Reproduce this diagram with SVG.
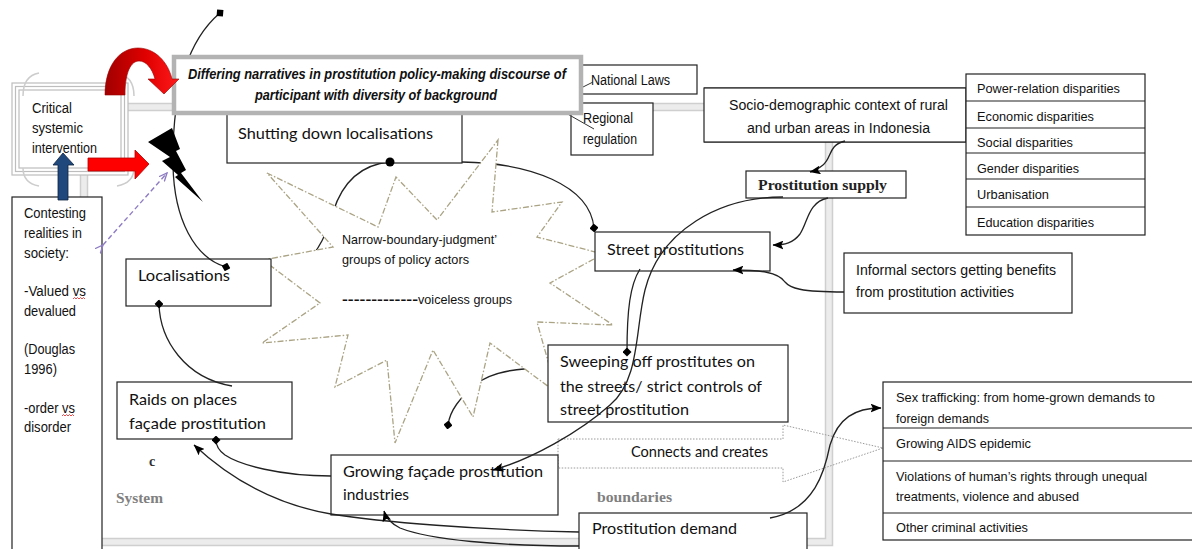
<svg xmlns="http://www.w3.org/2000/svg" width="1192" height="549" viewBox="0 0 1192 549">
<defs>
<style>
.box{fill:#fff;stroke:#222;stroke-width:1.2}
.cal{font-family:Lato,"Open Sans",sans-serif;font-size:15px;fill:#111}
.ar{font-family:"Liberation Sans",Arial,sans-serif;font-size:14px;fill:#111}
.sm{font-family:"Liberation Sans",Arial,sans-serif;font-size:13.5px;fill:#111}
.ser{font-family:"Liberation Serif","Times New Roman",serif;font-weight:bold;font-size:14px}
.con{fill:none;stroke:#222;stroke-width:1.3}
.frame{fill:none;stroke:#cfcfcf;stroke-width:1.5}
</style>
<marker id="arr" viewBox="0 0 10 8" refX="9.5" refY="4" markerWidth="11" markerHeight="9" markerUnits="userSpaceOnUse" orient="auto"><path d="M0,0 L10,4 L0,8 L2,4 Z" fill="#000"/></marker>
<marker id="dia" viewBox="0 0 10 10" refX="5" refY="5" markerWidth="9" markerHeight="9" markerUnits="userSpaceOnUse" orient="auto"><path d="M0,5 L5,0 L10,5 L5,10 Z" fill="#000"/></marker>
<marker id="vo" viewBox="0 0 10 10" refX="9" refY="5" markerWidth="9" markerHeight="9" markerUnits="userSpaceOnUse" orient="auto"><path d="M0,1 L9,5 L0,9" fill="none" stroke="#8e7cc3" stroke-width="1.5"/></marker>
<linearGradient id="redg" x1="0" y1="0" x2="1" y2="0"><stop offset="0" stop-color="#a00000"/><stop offset="0.55" stop-color="#e00000"/><stop offset="1" stop-color="#ff1a1a"/></linearGradient>
</defs>

<!-- System boundary frame -->
<g id="system-boundary">
<rect x="84" y="107" width="745" height="435" fill="none" stroke="#ececec" stroke-width="7"/>
<rect x="80.5" y="103.5" width="752" height="442" class="frame"/>
<rect x="87.5" y="110.5" width="738" height="428" class="frame"/>
</g>

<!-- Connectors partly hidden by the star -->
<g id="connectors-under">
<path class="con" d="M390,162 C355,165 340,190 333,212 C326,235 320,248 305,265"/>
<path class="con" d="M462,162 C530,163 590,185 594,228" marker-end="url(#dia)"/>
<path class="con" d="M548,368 C515,368 490,372 475,385 C460,398 450,410 448,425" marker-end="url(#dia)"/>
</g>

<!-- Star -->
<g id="star">
<polygon points="498,140 492,212 562,202 537,237 603,254 550,283 613,325 537,322 557,393 490,343 473,417 433,350 395,443 387,360 335,387 348,335 262,343 320,303 263,260 333,247 267,173 378,227 396,177 437,220" fill="#fff" stroke="#aaa384" stroke-width="1.3" stroke-dasharray="6 2 1.5 2"/>
<text class="sm" x="342" y="244" textLength="155" lengthAdjust="spacingAndGlyphs">Narrow-boundary-judgment’</text>
<text class="sm" x="342" y="264" textLength="127" lengthAdjust="spacingAndGlyphs">groups of policy actors</text>
<text class="sm" x="342" y="304" textLength="76" lengthAdjust="spacingAndGlyphs" font-weight="bold">-------------</text>
<text class="sm" x="418" y="304" textLength="94" lengthAdjust="spacingAndGlyphs">voiceless groups</text>
</g>

<!-- Connects and creates block arrow -->
<g id="connects-arrow">
<polygon points="558,439 783,439 783,425 883,448 783,482 783,468 558,468" fill="none" stroke="#9a9a9a" stroke-width="1" stroke-dasharray="1.5 1.5"/>
<text class="cal" x="631" y="457" textLength="137" lengthAdjust="spacingAndGlyphs" font-size="14">Connects and creates</text>
</g>

<!-- Nodes -->
<g id="critical">
<rect x="12" y="83" width="116" height="92" fill="#fff" stroke="#bdbdbd" stroke-width="1.2"/>
<rect x="15.5" y="86.5" width="109" height="85" fill="none" stroke="#bdbdbd" stroke-width="1.2"/>
<rect x="19" y="90" width="102" height="78" fill="none" stroke="#bdbdbd" stroke-width="1.2"/>
<path d="M23,96 C23,82 28,75 39,73 M117,73 C128,75 134,82 134,96 M23,168 C23,178 28,184 39,186 M117,186 C128,184 134,178 134,168" fill="none" stroke="#cccccc" stroke-width="1.5"/>
<text class="ar" x="32" y="113" textLength="40" lengthAdjust="spacingAndGlyphs">Critical</text>
<text class="ar" x="32" y="133" textLength="51" lengthAdjust="spacingAndGlyphs">systemic</text>
<text class="ar" x="32" y="153" textLength="65" lengthAdjust="spacingAndGlyphs">intervention</text>
</g>

<g id="national-laws">
<rect class="box" x="579" y="65" width="118" height="29"/>
<text class="ar" x="591" y="85" textLength="79" lengthAdjust="spacingAndGlyphs">National Laws</text>
<line x1="581" y1="88" x2="593" y2="82" stroke="#333" stroke-width="1"/>
</g>

<g id="regional-regulation">
<rect class="box" x="571" y="103" width="82" height="52"/>
<text class="ar" x="583" y="123" textLength="50" lengthAdjust="spacingAndGlyphs">Regional</text>
<text class="ar" x="583" y="144" textLength="54" lengthAdjust="spacingAndGlyphs">regulation</text>
</g>

<g id="shutting-down">
<rect class="box" x="227" y="113" width="235" height="50"/>
<text class="cal" x="238" y="139" textLength="195" lengthAdjust="spacingAndGlyphs">Shutting down localisations</text>
</g>

<g id="socio-demographic">
<line x1="704" y1="88" x2="966" y2="88" stroke="#222" stroke-width="1.2"/>
<line x1="704" y1="142" x2="966" y2="142" stroke="#222" stroke-width="1.2"/>
<rect class="box" x="704" y="88" width="262" height="54"/>
<text class="ar" x="729" y="110" textLength="219" lengthAdjust="spacingAndGlyphs" font-size="15">Socio-demographic context of rural</text>
<text class="ar" x="747" y="133" textLength="183" lengthAdjust="spacingAndGlyphs" font-size="15">and urban areas in Indonesia</text>
</g>

<g id="disparities">
<rect class="box" x="966" y="74" width="179" height="161"/>
<path d="M966,101 H1145 M966,128 H1145 M966,153 H1145 M966,179 H1145 M966,207 H1145" stroke="#222" stroke-width="1.2"/>
<text class="sm" x="977" y="93" textLength="143" lengthAdjust="spacingAndGlyphs">Power-relation disparities</text>
<text class="sm" x="977" y="121" textLength="117" lengthAdjust="spacingAndGlyphs">Economic disparities</text>
<text class="sm" x="977" y="147" textLength="96" lengthAdjust="spacingAndGlyphs">Social disparities</text>
<text class="sm" x="977" y="173" textLength="102" lengthAdjust="spacingAndGlyphs">Gender disparities</text>
<text class="sm" x="977" y="199" textLength="72" lengthAdjust="spacingAndGlyphs">Urbanisation</text>
<text class="sm" x="977" y="227" textLength="117" lengthAdjust="spacingAndGlyphs">Education disparities</text>
</g>

<g id="prostitution-supply">
<rect class="box" x="746" y="171" width="160" height="27"/>
<text class="ser" x="758" y="190" textLength="129" lengthAdjust="spacingAndGlyphs" fill="#222">Prostitution supply</text>
</g>

<g id="street-prostitutions">
<rect class="box" x="595" y="232" width="175" height="39"/>
<text class="cal" x="607" y="255" textLength="137" lengthAdjust="spacingAndGlyphs">Street prostitutions</text>
</g>

<g id="informal-sectors">
<rect class="box" x="844" y="253" width="228" height="60"/>
<text class="ar" x="856" y="275" textLength="200" lengthAdjust="spacingAndGlyphs">Informal sectors getting benefits</text>
<text class="ar" x="856" y="297" textLength="158" lengthAdjust="spacingAndGlyphs">from prostitution activities</text>
</g>

<g id="localisations">
<rect class="box" x="126" y="259" width="145" height="47"/>
<text class="cal" x="138" y="281" textLength="92" lengthAdjust="spacingAndGlyphs">Localisations</text>
</g>

<g id="sweeping">
<rect class="box" x="548" y="345" width="240" height="77"/>
<text class="cal" x="560" y="367" textLength="195" lengthAdjust="spacingAndGlyphs">Sweeping off prostitutes on</text>
<text class="cal" x="560" y="392" textLength="202" lengthAdjust="spacingAndGlyphs">the streets/ strict controls of</text>
<text class="cal" x="560" y="415" textLength="129" lengthAdjust="spacingAndGlyphs">street prostitution</text>
</g>

<g id="raids">
<rect class="box" x="117" y="382" width="175" height="57"/>
<text class="cal" x="129" y="405" textLength="108" lengthAdjust="spacingAndGlyphs">Raids on places</text>
<text class="cal" x="129" y="429" textLength="137" lengthAdjust="spacingAndGlyphs">façade prostitution</text>
</g>

<g id="growing-facade">
<rect class="box" x="331" y="455" width="227" height="60"/>
<text class="cal" x="343" y="477" textLength="200" lengthAdjust="spacingAndGlyphs">Growing façade prostitution</text>
<text class="cal" x="343" y="500" textLength="66" lengthAdjust="spacingAndGlyphs">industries</text>
</g>

<g id="prostitution-demand">
<rect class="box" x="579" y="513" width="228" height="45"/>
<text class="cal" x="592" y="534" textLength="145" lengthAdjust="spacingAndGlyphs">Prostitution demand</text>
</g>

<g id="consequences">
<rect class="box" x="883" y="382" width="330" height="158"/>
<path d="M883,428 H1192 M883,461 H1192 M883,513 H1192" stroke="#222" stroke-width="1.2"/>
<text class="sm" x="896" y="402" textLength="259" lengthAdjust="spacingAndGlyphs">Sex trafficking: from home-grown demands to</text>
<text class="sm" x="896" y="423" textLength="93" lengthAdjust="spacingAndGlyphs">foreign demands</text>
<text class="sm" x="896" y="448" textLength="135" lengthAdjust="spacingAndGlyphs">Growing AIDS epidemic</text>
<text class="sm" x="896" y="481" textLength="251" lengthAdjust="spacingAndGlyphs">Violations of human’s rights through unequal</text>
<text class="sm" x="896" y="501" textLength="183" lengthAdjust="spacingAndGlyphs">treatments, violence and abused</text>
<text class="sm" x="896" y="532" textLength="132" lengthAdjust="spacingAndGlyphs">Other criminal activities</text>
</g>

<g id="contesting-realities">
<rect class="box" x="12" y="197" width="90" height="360"/>
<text class="ar" x="24" y="218" textLength="62" lengthAdjust="spacingAndGlyphs">Contesting</text>
<text class="ar" x="24" y="238" textLength="58" lengthAdjust="spacingAndGlyphs">realities in</text>
<text class="ar" x="24" y="258" textLength="45" lengthAdjust="spacingAndGlyphs">society:</text>
<text class="ar" x="24" y="296" textLength="62" lengthAdjust="spacingAndGlyphs">-Valued vs</text>
<text class="ar" x="24" y="316" textLength="52" lengthAdjust="spacingAndGlyphs">devalued</text>
<text class="ar" x="24" y="354" textLength="51" lengthAdjust="spacingAndGlyphs">(Douglas</text>
<text class="ar" x="24" y="374" textLength="33" lengthAdjust="spacingAndGlyphs">1996)</text>
<text class="ar" x="24" y="413" textLength="51" lengthAdjust="spacingAndGlyphs">-order vs</text>
<text class="ar" x="24" y="432" textLength="47" lengthAdjust="spacingAndGlyphs">disorder</text>
<path d="M73,299 l1.5,-1.5 l1.5,1.5 l1.5,-1.5 l1.5,1.5 l1.5,-1.5 l1.5,1.5 l1.5,-1.5 l1.5,1.5" fill="none" stroke="#e02020" stroke-width="0.8"/>
<path d="M62,416 l1.5,-1.5 l1.5,1.5 l1.5,-1.5 l1.5,1.5 l1.5,-1.5 l1.5,1.5 l1.5,-1.5 l1.5,1.5" fill="none" stroke="#e02020" stroke-width="0.8"/>
</g>

<!-- Labels -->
<g id="labels">
<text class="ser" x="149" y="466" fill="#333" font-size="13">c</text>
<text class="ser" x="116" y="503" fill="#808080" textLength="47" lengthAdjust="spacingAndGlyphs">System</text>
<text class="ser" x="597" y="502" fill="#808080" textLength="75" lengthAdjust="spacingAndGlyphs">boundaries</text>
</g>

<!-- Connectors -->
<g id="connectors">
<path class="con" d="M220,13 C188,40 172,90 173,165 C174,220 195,258 226,267" marker-start="url(#dia)" marker-end="url(#dia)"/>
<circle cx="390" cy="162" r="4.5" fill="#000"/>
<path class="con" d="M845,141 C828,145 832,158 823,165 C818,169 815,171 810,172" marker-end="url(#arr)"/>
<path class="con" d="M828,198 C808,202 808,222 800,234 C793,243 785,245 773,245" marker-end="url(#arr)"/>
<path class="con" d="M844,292 C800,292 790,288 785,282 C778,272 760,270 733,270" marker-end="url(#arr)"/>
<path class="con" d="M640,269 C630,285 627,310 627,352" marker-end="url(#dia)"/>
<path class="con" d="M783,197 C720,197 660,230 645,290 C635,330 640,380 610,405 C580,432 530,460 493,470" marker-end="url(#arr)"/>
<path class="con" d="M159,304 C160,340 185,378 232,386" marker-start="url(#dia)"/>
<path class="con" d="M331,476 C280,476 240,465 225,455 C218,450 216,445 216,440" marker-end="url(#dia)"/>
<path class="con" d="M579,532 C480,530 380,522 331,514 C290,507 240,488 194,445" marker-end="url(#arr)"/>
<path class="con" d="M579,546 C500,546 430,540 400,528 C390,523 386,518 384,511" marker-end="url(#arr)"/>
<path class="con" d="M770,518 C815,510 825,470 830,445 C838,418 855,408 881,408" marker-end="url(#arr)"/>
<line x1="557" y1="108" x2="594" y2="129" stroke="#333" stroke-width="1"/>
<line x1="103" y1="245" x2="167" y2="173" stroke="#8e7cc3" stroke-width="1.4" stroke-dasharray="5 3" marker-start="url(#vo)" marker-end="url(#vo)"/>
</g>

<g id="title">
<rect x="174" y="57" width="407" height="56" fill="#fff" stroke="#b3b3b3" stroke-width="4.5"/>
<text class="ar" x="188" y="79" font-size="13" font-weight="bold" font-style="italic" textLength="378" lengthAdjust="spacingAndGlyphs">Differing narratives in prostitution policy-making discourse of</text>
<text class="ar" x="255" y="100" font-size="13" font-weight="bold" font-style="italic" textLength="242" lengthAdjust="spacingAndGlyphs">participant with diversity of background</text>
</g>

<!-- Symbol shapes -->
<g id="shapes">
<path d="M105,95 C105,65 120,48 138,48 C155,48 168,62 172,79 L179,79 L164,94 L148,79 L155,79 C152,68 146,61 139,61 C131,61 125,72 125,95 Z" fill="url(#redg)" stroke="#900" stroke-width="0.6"/>
<path d="M88,158 L135,158 L135,150 L149,164 L135,179 L135,171 L88,171 Z" fill="#ff0000" stroke="#b00000" stroke-width="0.8"/>
<path d="M58,200 L58,165 L53,165 L63,153 L74,165 L68,165 L68,200 Z" fill="#1f497d" stroke="#0d2240" stroke-width="0.8"/>
<polygon points="148,142 172,128 180,149 176,151 186,170 181,173 203,202 175,177 178,175 162,161 170,157" fill="#000"/>
</g>
</svg>
